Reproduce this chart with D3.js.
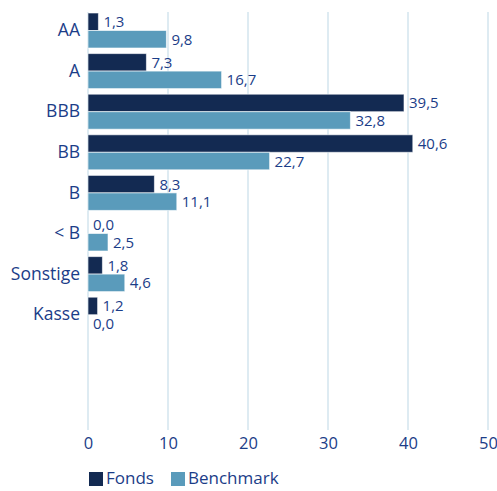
<!DOCTYPE html>
<html>
<head>
<meta charset="utf-8">
<script src="https://cdn.jsdelivr.net/npm/d3@7"></script>
<style>
  body { margin: 0; background: #fff; }
  text { font-family: "Open Sans", sans-serif; fill: #1b3d88; }
</style>
</head>
<body>
<div id="chart-container"></div>
<script>
const categories = ["AA", "A", "BBB", "BB", "B", "< B", "Sonstige", "Kasse"];
const series = ["Fonds", "Benchmark"];
const fonds = [1.3, 7.3, 39.5, 40.6, 8.3, 0.0, 1.8, 1.2];
const benchmark = [9.8, 16.7, 32.8, 22.7, 11.1, 2.5, 4.6, 0.0];
const xTicks = [0, 10, 20, 30, 40, 50];

const colors = { Fonds: "#132a52", Benchmark: "#5a9bbb" };

const W = 497, H = 491;
const svg = d3.select("#chart-container").append("svg")
  .attr("width", W).attr("height", H);

const x = d3.scaleLinear().domain([0, 50]).range([88, 488]);
const y = d3.scaleBand().domain(categories).range([10.2, 335])
  .paddingInner(0.138).paddingOuter(0.069);
const ySub = d3.scaleBand().domain(series).range([0, y.bandwidth()]);

// gridlines
svg.append("g")
  .selectAll("line")
  .data(xTicks)
  .join("line")
  .attr("x1", d => x(d)).attr("x2", d => x(d))
  .attr("y1", 12).attr("y2", 430)
  .attr("stroke", "#d3e5ee")
  .attr("stroke-width", 1.5);

// x axis labels
const xAxis = d3.axisBottom(x).tickValues(xTicks).tickSize(0).tickPadding(0);
const gx = svg.append("g").attr("transform", "translate(0,437)").call(xAxis);
gx.select(".domain").remove();
gx.attr("font-size", null).attr("font-family", null);
gx.selectAll("text").style("font-size", "16.5px").attr("dy", "0.71em")
  .style("font-family", "'Open Sans', sans-serif").attr("fill", "#1b3d88");

// category labels
const yAxis = d3.axisLeft(y).tickSize(0).tickPadding(0);
const gy = svg.append("g").attr("transform", "translate(80,0)").call(yAxis);
gy.select(".domain").remove();
gy.attr("font-size", null).attr("font-family", null);
gy.selectAll("text").style("font-size", "17.5px")
  .style("font-family", "'Open Sans', sans-serif").attr("fill", "#1b3d88");

const rows = categories.map((c, i) => ({
  cat: c,
  vals: [
    { s: "Fonds", v: fonds[i] },
    { s: "Benchmark", v: benchmark[i] }
  ]
}));

const fmt = v => d3.format(".1f")(v).replace(".", ",");

const groups = svg.append("g")
  .selectAll("g")
  .data(rows)
  .join("g")
  .attr("transform", d => `translate(0,${y(d.cat)})`);

groups.selectAll("rect")
  .data(d => d.vals)
  .join("rect")
  .attr("x", x(0))
  .attr("y", d => ySub(d.s))
  .attr("width", d => x(d.v) - x(0))
  .attr("height", ySub.bandwidth())
  .attr("fill", d => colors[d.s])
  .attr("stroke", "#ffffff")
  .attr("stroke-opacity", 0.6)
  .attr("stroke-width", d => d.v > 0 ? 1 : 0);

groups.selectAll("text.val")
  .data(d => d.vals)
  .join("text")
  .attr("class", "val")
  .attr("x", d => x(d.v) + 5)
  .attr("y", d => ySub(d.s) + ySub.bandwidth() / 2 + 1.5)
  .attr("dominant-baseline", "middle")
  .style("font-size", "15px")
  .text(d => fmt(d.v));

// legend
const legend = svg.append("g").attr("transform", "translate(89,472)");
const li = legend.selectAll("g")
  .data(series)
  .join("g")
  .attr("transform", (d, i) => `translate(${i * 82},0)`);
li.append("rect").attr("width", 14).attr("height", 14)
  .attr("fill", d => colors[d]);
li.append("text").attr("x", 17).attr("y", 7.5)
  .attr("dominant-baseline", "middle")
  .style("font-size", "17px")
  .text(d => d);
</script>
</body>
</html>
